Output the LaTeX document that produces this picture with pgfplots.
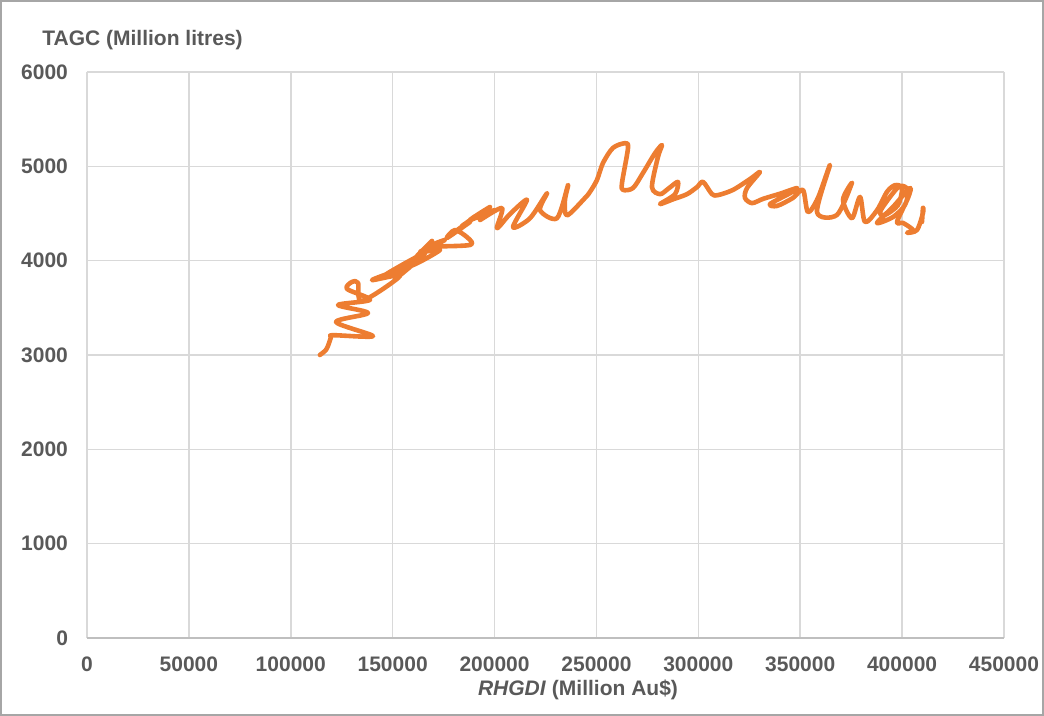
\documentclass[border=0pt]{standalone}
\usepackage{fontspec}
\setmainfont{Liberation Sans}
\usepackage{pgfplots}
\pgfplotsset{compat=1.18}
\definecolor{lineor}{HTML}{ED7D31}
\definecolor{gridc}{HTML}{D9D9D9}
\definecolor{txt}{HTML}{595959}
\definecolor{axc}{HTML}{BFBFBF}
\definecolor{frame}{HTML}{A6A6A6}
\begin{document}
\begin{tikzpicture}
\useasboundingbox (-43.5pt,-39pt) rectangle (478.5pt,319pt);
\draw[frame, line width=0.75pt] (-43pt,-38.5pt) rectangle (478pt,318.5pt);
\begin{axis}[
  name=ax,
  at={(0,0)}, anchor=south west,
  scale only axis,
  width=458.5pt, height=283pt,
  xmin=0, xmax=450000, ymin=0, ymax=6000,
  xtick={0,50000,...,450000}, ytick={0,1000,...,6000},
  scaled ticks=false,
  xticklabel={\pgfmathprintnumber[fixed,precision=0,1000 sep={},assume math mode=true]{\tick}},
  yticklabel={\pgfmathprintnumber[fixed,precision=0,1000 sep={},assume math mode=true]{\tick}},
  major tick length=0pt,
  grid=major,
  major grid style={gridc, line width=0.75pt},
  axis line style={draw=none},
  tick label style={font=\fontsize{10.5}{12}\selectfont\bfseries, text=txt},
  yticklabel style={anchor=east, xshift=-6pt},
  xticklabel style={anchor=north, yshift=-6pt},
  clip=false,
]
\draw[axc, line width=0.9pt] (axis cs:0,0) -- (axis cs:450000,0);
\addplot[lineor, line width=2.3pt, smooth, tension=0.5, line join=round, line cap=round] coordinates {
(114300,3000) (117300,3055) (118750,3125) (119750,3190) (120700,3210)
(140350,3200) (122200,3350) (137900,3445) (123200,3530) (138900,3585)
(127600,3700) (130050,3775) (133000,3765)
(134950,3573) (153600,3838) (139860,3795) (158500,3944) (146240,3848)
(165870,4081) (151150,3806) (169300,4209) (158500,3944) (173230,4113)
(163410,4092) (175680,4219)
(169300,4156) (187950,4166) (186970,4240) (180590,4325) (176660,4240)
(187950,4410) (179120,4283) (193840,4516) (184020,4368) (197760,4569)
(187950,4431) (200220,4537) (192860,4431) (203650,4558)
(201200,4345) (207600,4495) (215900,4645) (209050,4355) (217400,4450)
(225750,4715) (222300,4535) (230650,4450) (236050,4800) (234550,4640)
(235550,4480) (244400,4665) (246850,4730) (250250,4855) (253200,5035)
(258100,5195) (264000,5245) (265500,5195) (262550,4825) (263050,4750)
(267950,4770) (272850,4930) (278750,5140) (282150,5225) (280200,5100)
(277250,4780) (281200,4705) (285100,4760) (290000,4835) (288550,4705)
(281200,4600) (287550,4650) (294450,4705) (299350,4780) (302300,4835)
(306700,4705) (309650,4695) (317000,4750) (325350,4865) (330250,4940)
(323900,4770) (322900,4665) (326350,4610) (331750,4655) (340100,4710)
(348400,4770) (345000,4715) (335150,4600) (338600,4580) (346450,4665)
(351350,4750) (353800,4515) (358700,4665) (364600,5015) (358250,4515)
(368050,4485) (375400,4825) (371000,4645) (375400,4450) (379350,4675)
(381800,4410) (387700,4535) (392600,4730) (396500,4800) (399950,4770)
(398000,4590) (391600,4484) (389150,4516) (394050,4675) (398950,4792)
(402900,4749) (401400,4590) (395550,4463) (387700,4400) (395550,4570)
(403850,4770) (402900,4665)
(397500,4410) (400450,4400) (405350,4325) (402400,4295) (407300,4325)
(410250,4505) (410250,4560) (409750,4410)
};
\end{axis}
\node[anchor=west, inner sep=0, font=\fontsize{10.5}{12}\selectfont\bfseries, text=txt] at ([xshift=-22.5pt, yshift=16pt]ax.north west) {TAGC (Million litres)};
\node[inner sep=0, font=\fontsize{10.5}{12}\selectfont\bfseries, text=txt] at ([xshift=245.5pt, yshift=-26pt]ax.south west) {\textit{RHGDI} (Million Au\$)};
\end{tikzpicture}
\end{document}
